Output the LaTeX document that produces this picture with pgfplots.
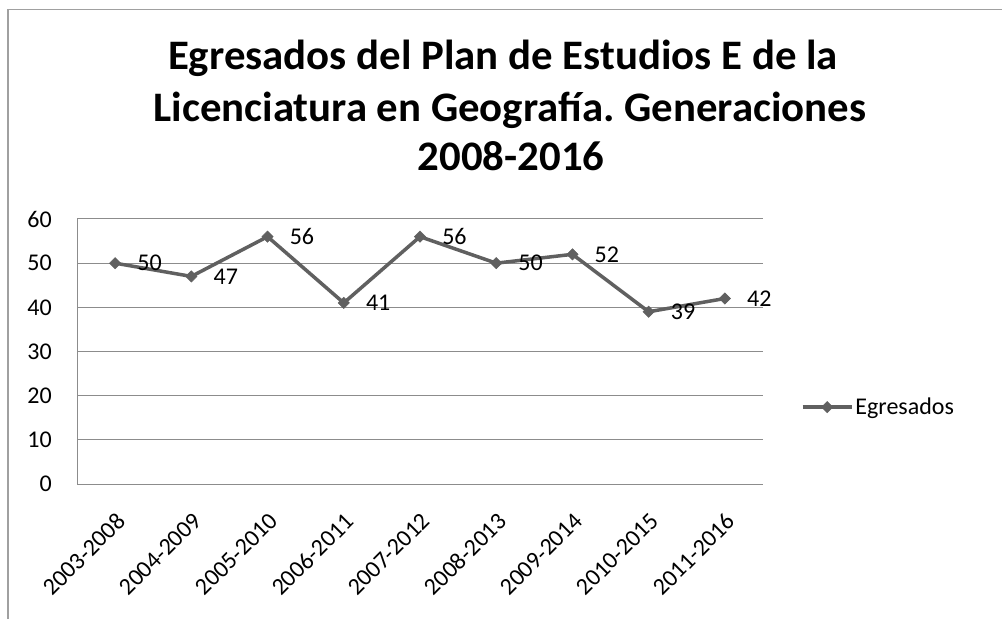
\documentclass[border=0pt]{standalone}
\usepackage{fontspec}
\setmainfont{Carlito}
\newfontfamily\lblfont{Carlito}
\newfontfamily\ttlfont[FakeStretch=1.02]{Carlito}
\usepackage{pgfplots}
\pgfplotsset{compat=1.18}
\definecolor{linegray}{RGB}{96,96,96}
\definecolor{gridgray}{RGB}{140,140,140}
\definecolor{framegray}{RGB}{160,160,160}
\frenchspacing
\begin{document}
\begin{tikzpicture}[x=1pt,y=1pt]
\useasboundingbox (0,0) rectangle (1002,619);
\fill[white] (0,0) rectangle (1002,619);
\draw[framegray, line width=1.5pt] (8,0) -- (8,609.5) -- (1002,609.5);
\node[font=\ttlfont\fontsize{42}{52}\selectfont\bfseries, anchor=base, inner sep=0] at (503,549) {Egresados del Plan de Estudios E de la};
\node[font=\ttlfont\fontsize{42}{52}\selectfont\bfseries, anchor=base, inner sep=0] at (510,497) {Licenciatura en Geografía. Generaciones};
\node[font=\ttlfont\fontsize{42}{52}\selectfont\bfseries, anchor=base, inner sep=0] at (511,448) {2008-2016};
\begin{axis}[
  at={(77pt,135pt)}, anchor=south west,
  scale only axis, width=686pt, height=265pt,
  xmin=-0.5, xmax=8.5, ymin=0, ymax=60,
  ytick={0,10,...,60},
  xtick={0,...,8},
  xticklabels={2003-2008,2004-2009,2005-2010,2006-2011,2007-2012,2008-2013,2009-2014,2010-2015,2011-2016},
  /pgf/number format/assume math mode=true,
  ymajorgrids, grid style={gridgray, line width=1pt},
  axis x line*=bottom, axis y line*=left,
  axis line style={gridgray, line width=1pt, -},
  major tick length=0pt,
  tick style={draw=none},
  ticklabel style={font=\lblfont\fontsize{24}{28}\selectfont, inner sep=0pt},
  yticklabel style={anchor=east, xshift=-25pt},
  xticklabel style={xshift=6pt, yshift=-33pt, rotate=45, anchor=east},
  legend style={draw=none, fill=none, at={(1.055,0.29)}, anchor=west, inner sep=0pt,
    font=\lblfont\fontsize{24}{28}\selectfont, legend cell align=left},
  legend image code/.code={
    \draw[#1, mark repeat=2, mark phase=2] plot coordinates {(0pt,0pt) (24.5pt,0pt) (49pt,0pt)};
  },
  clip=false,
]
\addplot[linegray, line width=3.5pt, mark=square*, mark size=4pt,
  mark options={rotate=45, fill=linegray, draw=linegray, line width=0.5pt},
  nodes near coords,
  nodes near coords style={anchor=west, xshift=22pt, inner sep=0pt, text=black, font=\lblfont\fontsize{24}{28}\selectfont},
] coordinates {
(0,50) (1,47) (2,56) (3,41) (4,56) (5,50) (6,52) (7,39) (8,42)
};
\addlegendentry{Egresados}
\end{axis}
\end{tikzpicture}
\end{document}
